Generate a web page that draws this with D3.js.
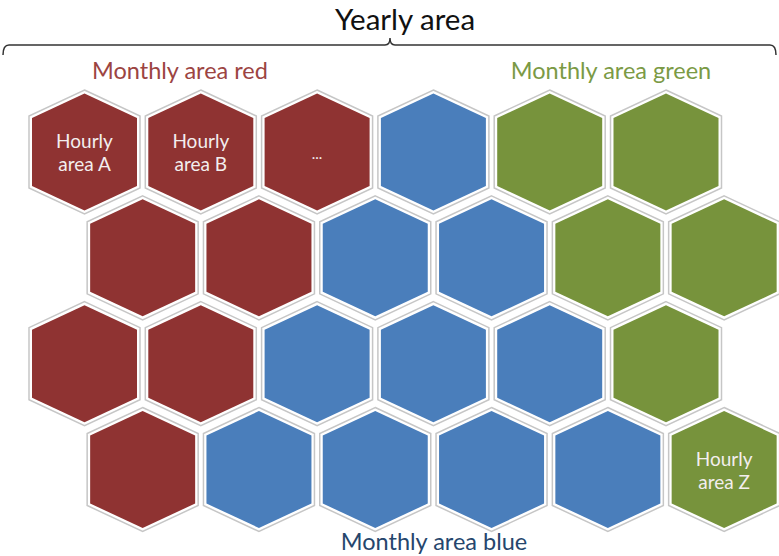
<!DOCTYPE html>
<html>
<head>
<meta charset="utf-8">
<script src="https://cdn.jsdelivr.net/npm/d3@7"></script>
<style>
  html, body { margin: 0; padding: 0; background: #fff; }
  svg { display: block; font-family: Lato, "Open Sans", sans-serif; }
</style>
</head>
<body>
<div id="chart"></div>
<script>
// grid of monthly areas (one letter per hourly area)
var rowLayout = [
  "RRRBGG",
  "RRBBGG",
  "RRBBBG",
  "RBBBBG"
];
var areaNames = { R: "Monthly area red", G: "Monthly area green", B: "Monthly area blue" };
var areaColors = { R: "#8f3332", B: "#4a7ebb", G: "#77933c" };
var labelColors = { R: "#9c4442", G: "#7b9a45", B: "#25466d" };

// labelled cells: [row, col, lines]
var cellLabels = [
  [0, 0, ["Hourly", "area A"]],
  [0, 1, ["Hourly", "area B"]],
  [0, 2, ["..."]],
  [3, 5, ["Hourly", "area Z"]]
];

var title = "Yearly area";

var width = 779, height = 556;

var svg = d3.select("#chart").append("svg")
  .attr("width", width)
  .attr("height", height);

// column index -> center x, row index -> center y
var x = d3.scaleLinear().domain([0, 5]).range([84.5, 666]);
var y = d3.scaleLinear().domain([0, 3]).range([152, 469.5]);

function hexPath(w, h, c) {
  // pointy-top hexagon: half width w, half height h, cap height c
  return "M0," + (-h) + "L" + w + "," + (-h + c) + "L" + w + "," + (h - c) +
    "L0," + h + "L" + (-w) + "," + (h - c) + "L" + (-w) + "," + (-h + c) + "Z";
}

var cells = [];
rowLayout.forEach(function(row, r) {
  row.split("").forEach(function(k, c) {
    cells.push({ row: r, col: c, key: k });
  });
});

var g = svg.selectAll(".cell")
  .data(cells)
  .enter().append("g")
  .attr("class", "cell")
  .attr("transform", function(d) {
    return "translate(" + x(d.col + (d.row % 2) * 0.5) + "," + y(d.row) + ")";
  });

g.append("path")
  .attr("d", hexPath(55.5, 62, 26))
  .attr("fill", "#fff")
  .attr("stroke", "#c6c6c6")
  .attr("stroke-width", 1.5);

g.append("path")
  .attr("d", hexPath(52.5, 58.5, 24.5))
  .attr("fill", function(d) { return areaColors[d.key]; });

// labels inside hexagons
cellLabels.forEach(function(l) {
  var cx = x(l[1] + (l[0] % 2) * 0.5), cy = y(l[0]);
  var lines = l[2];
  var t = svg.append("text")
    .attr("text-anchor", "middle")
    .attr("fill", "#f3eeee")
    .attr("font-size", lines.length > 1 ? 19 : 15);
  lines.forEach(function(s, i) {
    t.append("tspan")
      .attr("x", cx)
      .attr("y", lines.length > 1 ? cy - 4 + i * 23 : cy + 7)
      .text(s);
  });
});

// title and bracket
svg.append("text")
  .attr("x", 405)
  .attr("y", 30)
  .attr("text-anchor", "middle")
  .attr("font-size", 29.5)
  .attr("fill", "#111")
  .text(title);

svg.append("path")
  .attr("d", "M3,55 Q3,45 9,45 H385 Q390,45 390,38 Q390,45 395,45 H770 Q776,45 776,55")
  .attr("fill", "none")
  .attr("stroke", "#333")
  .attr("stroke-width", 1.5);

// monthly area labels
var subLabels = [
  { key: "R", x: 180, y: 79 },
  { key: "G", x: 611, y: 79 },
  { key: "B", x: 434, y: 550 }
];
svg.selectAll(".sub")
  .data(subLabels)
  .enter().append("text")
  .attr("class", "sub")
  .attr("x", function(d) { return d.x; })
  .attr("y", function(d) { return d.y; })
  .attr("text-anchor", "middle")
  .attr("font-size", 23.5)
  .attr("fill", function(d) { return labelColors[d.key]; })
  .text(function(d) { return areaNames[d.key]; });
</script>
</body>
</html>
